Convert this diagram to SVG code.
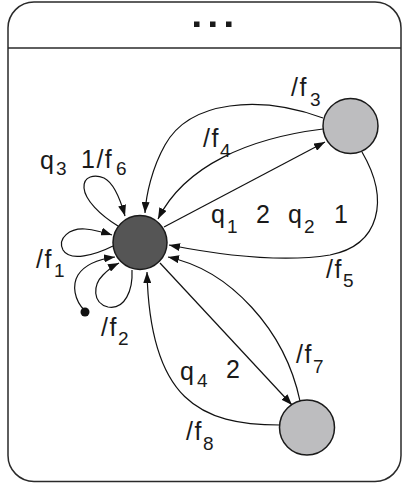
<svg xmlns="http://www.w3.org/2000/svg" width="404" height="483" viewBox="0 0 404 483">
<style>
.frame{fill:#fff;stroke:#2a2a2a;stroke-width:1.5}
.edge{fill:none;stroke:#111;stroke-width:1.2}
.lbl{font-family:"Liberation Sans",Arial,sans-serif;font-size:25px;fill:#1a1a1a;letter-spacing:1.5px}
.sub{font-size:19px;letter-spacing:0}
.main{fill:#555;stroke:#1a1a1a;stroke-width:1.5}
.state{fill:#bdbdbf;stroke:#1a1a1a;stroke-width:1.5}
</style>
<defs>
<marker id="ah" markerUnits="userSpaceOnUse" markerWidth="11" markerHeight="8" refX="11" refY="4" orient="auto">
<path d="M0,0 L11,4 L0,8 z" fill="#111"/>
</marker>
</defs>
<rect class="frame" x="8" y="2" width="393" height="479.5" rx="26" ry="26"/>
<line x1="8" y1="48" x2="401" y2="48" stroke="#2a2a2a" stroke-width="1.5"/>
<g id="dots" fill="#1a1a1a">
<rect x="194" y="21.5" width="5.5" height="5.5"/>
<rect x="210" y="21.5" width="5.5" height="5.5"/>
<rect x="226" y="21.5" width="5.5" height="5.5"/>
</g>
<g id="connectors">
<path class="edge" marker-end="url(#ah)" d="M118,226 C100,215 85,200 84,188 C83,176 95,174 104,178 C114,183 120,198 125,216"/>
<path class="edge" marker-end="url(#ah)" d="M113,246 C95,255 70,262 63,250 C57,238 70,228 85,229 C95,230 103,232 112,235"/>
<path class="edge" marker-end="url(#ah)" d="M85,311 C74,300 72,285 78,275 C85,264 100,259 115,257"/>
<path class="edge" marker-end="url(#ah)" d="M132,270 C133,290 125,310 108,307 C92,303 93,285 103,275 C108,270 113,266 119,263"/>
<path class="edge" marker-end="url(#ah)" d="M323,118 C260,95 190,100 165,145 C152,168 146,195 145,213"/>
<path class="edge" marker-end="url(#ah)" d="M323,129 C250,138 185,165 158,219"/>
<path class="edge" marker-end="url(#ah)" d="M164,227 L325,142"/>
<path class="edge" marker-end="url(#ah)" d="M362,152 C390,200 380,245 330,255 C280,263 220,255 169,245"/>
<path class="edge" marker-end="url(#ah)" d="M300,401 C285,330 230,270 168,257"/>
<path class="edge" marker-end="url(#ah)" d="M160,263 L292,405"/>
<path class="edge" marker-end="url(#ah)" d="M280,425 C200,425 150,400 147,272"/>
</g>
<g id="labels" class="lbl">
<text x="291" y="96">/f</text><text class="sub" x="310" y="106">3</text>
<text x="203" y="147">/f</text><text class="sub" x="220" y="157">4</text>
<text x="211" y="223">q</text><text class="sub" x="227" y="233">1</text>
<text x="256" y="223">2</text>
<text x="288" y="223">q</text><text class="sub" x="304" y="233">2</text>
<text x="334" y="223">1</text>
<text x="40" y="169">q</text><text class="sub" x="56" y="175">3</text>
<text x="81" y="168">1/f</text><text class="sub" x="116" y="175">6</text>
<text x="36" y="268">/f</text><text class="sub" x="54" y="277">1</text>
<text x="101" y="336">/f</text><text class="sub" x="118" y="345">2</text>
<text x="326" y="278">/f</text><text class="sub" x="343" y="287">5</text>
<text x="296" y="363">/f</text><text class="sub" x="313" y="373">7</text>
<text x="180" y="380">q</text><text class="sub" x="197" y="387">4</text>
<text x="226" y="378">2</text>
<text x="186" y="440">/f</text><text class="sub" x="203" y="450">8</text>
</g>
<g id="node-main"><circle class="main" cx="140" cy="242.5" r="27"/></g>
<g id="node-top"><circle class="state" cx="350.5" cy="126" r="27.5"/></g>
<g id="node-bottom"><circle class="state" cx="307" cy="427.5" r="27.5"/></g>
<g id="node-initial"><circle cx="85" cy="312" r="4.5" fill="#111"/></g>
</svg>
